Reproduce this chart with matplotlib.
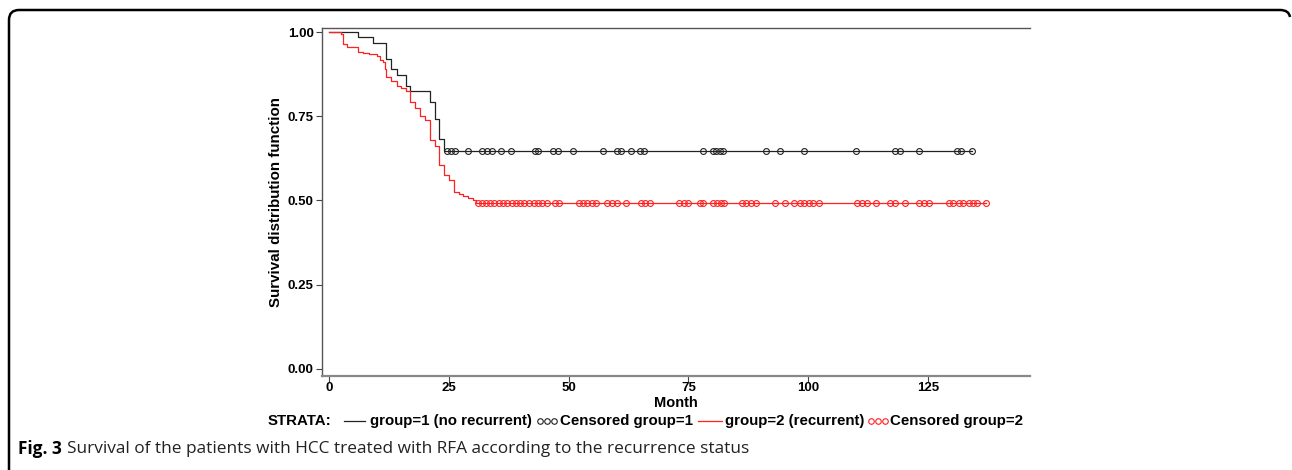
import numpy as np
import matplotlib.pyplot as plt
from matplotlib.lines import Line2D
from matplotlib.path import Path
from matplotlib.patches import PathPatch

# Kaplan-Meier steps
month_g1 = [0, 6.1, 9.1, 12.0, 12.9, 14.1, 16.1, 17.0, 21.1, 22.1, 23.0, 24.0, 134.1]
surv_g1 = [1.0, 0.984, 0.968, 0.921, 0.889, 0.872, 0.841, 0.825, 0.793, 0.742, 0.682, 0.647, 0.647]

month_g2 = [0, 2.5, 3.0, 3.8, 6.0, 7.2, 8.3, 10.0, 10.6, 11.3, 11.6, 12.0, 12.9, 14.1, 15.0,
            16.1, 17.0, 18.0, 19.0, 20.0, 21.1, 22.1, 23.0, 24.1, 25.1, 26.1, 27.1, 28.0,
            29.1, 30.0, 30.6, 137.2]
surv_g2 = [1.0, 0.993, 0.964, 0.957, 0.940, 0.937, 0.934, 0.929, 0.917, 0.910, 0.889, 0.867,
           0.855, 0.841, 0.833, 0.825, 0.793, 0.776, 0.751, 0.739, 0.680, 0.662, 0.605, 0.577,
           0.560, 0.526, 0.519, 0.514, 0.508, 0.502, 0.494, 0.494]

# censored times
cens_g1 = [24.7, 25.4, 26.3, 29.1, 32.0, 32.9, 34.0, 35.9, 38.0, 43.0, 43.7, 46.8, 47.7, 51.0,
           57.1, 60.2, 60.9, 63.0, 64.9, 65.8, 78.0, 80.1, 80.8, 81.5, 82.2, 91.1, 94.1, 99.1,
           110.0, 118.1, 119.2, 123.2, 131.0, 132.0, 134.1]
cens_g2 = [31.0, 31.9, 32.8, 33.6, 34.5, 35.4, 36.4, 37.2, 38.1, 39.0, 39.9, 40.8, 41.7, 42.7,
           43.6, 44.5, 45.4, 47.2, 48.0, 52.1, 53.0, 53.9, 54.8, 55.7, 58.1, 59.0, 60.1, 62.0,
           65.1, 66.0, 67.0, 73.1, 74.0, 75.0, 77.4, 78.1, 80.1, 80.9, 81.8, 82.5, 86.2, 87.1,
           88.1, 89.2, 93.1, 95.2, 97.1, 98.2, 99.2, 100.2, 101.1, 102.2, 110.2, 111.2, 112.3,
           114.1, 117.1, 118.2, 120.3, 123.2, 124.2, 125.3, 129.3, 130.3, 131.4, 132.4, 133.5,
           134.4, 135.2, 137.2]

x_ticks = [0, 25, 50, 75, 100, 125]
y_ticks = [0.00, 0.25, 0.50, 0.75, 1.00]

W, H = 1292, 470
fig = plt.figure(figsize=(W / 100, H / 100), dpi=100)
ax = fig.add_axes([322 / W, 1 - 376 / H, (1030 - 322) / W, (376 - 28) / H])

black = '#222222'
red = '#ff2020'

ax.step(month_g1, surv_g1, where='post', color=black, lw=0.9)
ax.step(month_g2, surv_g2, where='post', color=red, lw=0.9)

ax.plot(cens_g1, [surv_g1[-1]] * len(cens_g1), 'o', mfc='none', mec=black, ms=4.2, mew=0.8)
ax.plot(cens_g2, [surv_g2[-1]] * len(cens_g2), 'o', mfc='none', mec=red, ms=4.2, mew=0.8)

ax.set_xlim(-1.46, 146.3)
ax.set_ylim(-0.021, 1.012)
ax.set_xticks(x_ticks)
ax.set_yticks(y_ticks)
ax.set_xticklabels([str(t) for t in x_ticks])
ax.set_yticklabels(['%.2f' % t for t in y_ticks])

fnt = ['Liberation Sans', 'DejaVu Sans']
for lab in ax.get_xticklabels() + ax.get_yticklabels():
    lab.set_family(fnt)
    lab.set_fontweight('bold')
    lab.set_fontsize(9.5)
ax.tick_params(direction='out', length=4, width=0.8, colors='#444444', labelcolor='black', pad=2)
ax.tick_params(axis='x', pad=0.5)

ax.spines['right'].set_visible(False)
for s in ['left', 'top']:
    ax.spines[s].set_color('#555555')
    ax.spines[s].set_linewidth(1.0)
ax.spines['bottom'].set_color('#888888')
ax.spines['bottom'].set_linewidth(1.6)

ax.set_xlabel('Month', family=fnt, fontweight='bold', fontsize=10.5, labelpad=1)
ax.set_ylabel('Survival distribution function', family=fnt, fontweight='bold', fontsize=10.9, labelpad=3)

# legend row, built by hand, one piece after another
fig.canvas.draw()
rend = fig.canvas.get_renderer()
ly = 1 - 421 / H
x = 268.0
lfs = 10.8


def put_text(s, x, gap):
    t = fig.text(x / W, ly, s, family=fnt, fontweight='bold', fontsize=lfs, va='center')
    return t.get_window_extent(rend).x1 + gap


def put_line(col, x, length, gap):
    fig.add_artist(Line2D([x / W, (x + length) / W], [ly, ly], color=col, lw=0.9))
    return x + length + gap


def put_circles(col, x, gap):
    fig.add_artist(Line2D([(x + 3) / W, (x + 10) / W, (x + 17) / W], [ly] * 3, ls='none',
                          marker='o', mfc='none', mec=col, ms=4, mew=0.8))
    return x + 20 + gap


x = put_text('STRATA:', x, 12)
x = put_line(black, x, 21, 5)
x = put_text('group=1 (no recurrent)', x, 5)
x = put_circles(black, x, 3)
x = put_text('Censored group=1', x, 5)
x = put_line(red, x, 24, 3)
x = put_text('group=2 (recurrent)', x, 4)
x = put_circles(red, x, 2)
x = put_text('Censored group=2', x, 0)

# caption
cy = 1 - 449 / H
cfnt = ['Open Sans', 'DejaVu Sans']
t1 = fig.text(18 / W, cy, 'Fig. 3', family=cfnt, fontweight='bold', fontsize=12.4, va='center')
bb = t1.get_window_extent(rend)
fig.text(bb.x1 / W + 5 / W, cy,
         'Survival of the patients with HCC treated with RFA according to the recurrence status',
         family=cfnt, fontsize=12.4, va='center', color='#222222')

# rounded frame around figure
pts = [(9, 470), (9, 20), (9, 10), (19, 10), (1280, 10), (1289, 10), (1290, 17)]
codes = [Path.MOVETO, Path.LINETO, Path.CURVE3, Path.CURVE3, Path.LINETO, Path.CURVE3, Path.CURVE3]
verts = [(px / W, 1 - py / H) for px, py in pts]
fig.add_artist(PathPatch(Path(verts, codes), transform=fig.transFigure, fill=False,
                         lw=1.8, ec='black'))

fig.savefig('out.png', dpi=100)
